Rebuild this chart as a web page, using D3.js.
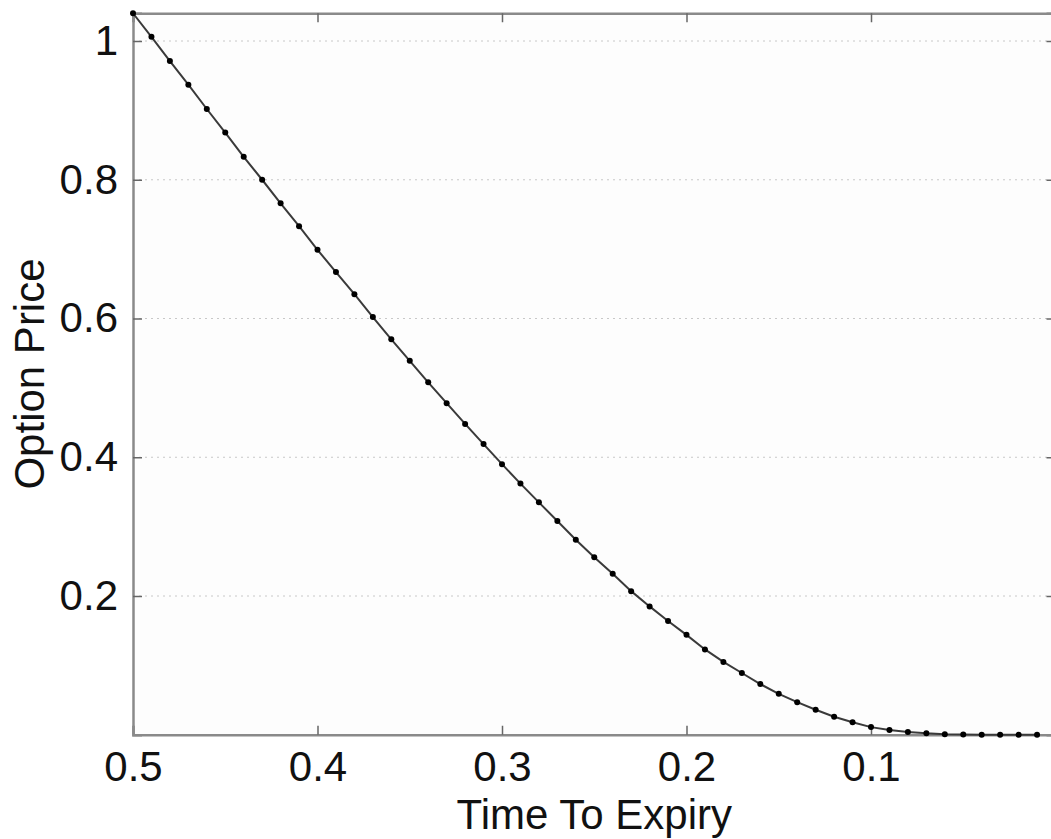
<!DOCTYPE html>
<html>
<head>
<meta charset="utf-8">
<script src="https://cdn.jsdelivr.net/npm/d3@7"></script>
<style>
  html, body { margin: 0; padding: 0; background: #fff; }
  svg { display: block; font-family: "Liberation Sans", Arial, sans-serif; }
</style>
</head>
<body>
<div id="chart"></div>
<script>
(function() {
    const width = 1051;
    const height = 839;

    // time to expiry (years), from 0.50 down to 0.01
    const expiry = [0.50, 0.49, 0.48, 0.47, 0.46, 0.45, 0.44, 0.43, 0.42, 0.41,
                    0.40, 0.39, 0.38, 0.37, 0.36, 0.35, 0.34, 0.33, 0.32, 0.31,
                    0.30, 0.29, 0.28, 0.27, 0.26, 0.25, 0.24, 0.23, 0.22, 0.21,
                    0.20, 0.19, 0.18, 0.17, 0.16, 0.15, 0.14, 0.13, 0.12, 0.11,
                    0.10, 0.09, 0.08, 0.07, 0.06, 0.05, 0.04, 0.03, 0.02, 0.01];
    const price = [1.040, 1.006, 0.971, 0.937, 0.902, 0.868, 0.833, 0.800, 0.766, 0.733,
                   0.699, 0.667, 0.635, 0.602, 0.570, 0.539, 0.508, 0.478, 0.448, 0.419,
                   0.390, 0.362, 0.335, 0.308, 0.281, 0.256, 0.232, 0.207, 0.185, 0.164,
                   0.144, 0.123, 0.105, 0.089, 0.073, 0.059, 0.047, 0.036, 0.026, 0.018,
                   0.011, 0.007, 0.004, 0.002, 0.0008, 0.0003, 0.0001, 0, 0, 0];
    const xTicks = [0.5, 0.4, 0.3, 0.2, 0.1];
    const yTicks = [0.2, 0.4, 0.6, 0.8, 1];

    const data = expiry.map((t, i) => ({ t: t, v: price[i] }));

    const plot = { left: 133, right: 1055.5, top: 13.25, bottom: 734.75 };

    const x = d3.scaleLinear().domain([0.5, 0]).range([plot.left, plot.right]);
    const y = d3.scaleLinear().domain([0, 1.04]).range([plot.bottom, plot.top]);

    const svg = d3.select("#chart").append("svg")
        .attr("width", width).attr("height", height);

    svg.append("rect")
        .attr("x", plot.left).attr("y", plot.top)
        .attr("width", plot.right - plot.left).attr("height", plot.bottom - plot.top)
        .attr("fill", "#fdfdfd");

    // horizontal dotted grid
    svg.append("g").selectAll("line")
        .data(yTicks)
        .join("line")
        .attr("x1", plot.left).attr("x2", plot.right)
        .attr("y1", d => y(d)).attr("y2", d => y(d))
        .attr("stroke", "#c8c8c8").attr("stroke-width", 1)
        .attr("stroke-dasharray", "2,4");

    const tickLen = 9;
    const axisColor = "#8a8a8a";

    // bottom & top axes (ticks inward)
    const xAxis = svg.append("g")
        .attr("transform", `translate(0,${plot.bottom})`)
        .call(d3.axisBottom(x).tickValues(xTicks).tickSize(-tickLen).tickPadding(16.5)
            .tickFormat(d3.format(".1f")));
    svg.append("g")
        .attr("transform", `translate(0,${plot.top})`)
        .call(d3.axisTop(x).tickValues(xTicks).tickSize(-tickLen).tickFormat(""));

    // left & right axes
    const yAxis = svg.append("g")
        .attr("transform", `translate(${plot.left},0)`)
        .call(d3.axisLeft(y).tickValues(yTicks).tickSize(-tickLen).tickPadding(15)
            .tickFormat(d => d === 1 ? "1" : d3.format(".1f")(d)));
    svg.append("g")
        .attr("transform", `translate(${plot.right},0)`)
        .call(d3.axisRight(y).tickValues(yTicks).tickSize(-tickLen).tickFormat(""));

    svg.selectAll(".domain").attr("stroke", axisColor).attr("stroke-width", 2.5);
    svg.selectAll(".tick line").attr("stroke", "#666").attr("stroke-width", 1.5);
    svg.selectAll(".tick text")
        .attr("fill", "#111").attr("font-size", 42)
        .attr("font-family", "'Liberation Sans', Arial, sans-serif");
    xAxis.selectAll(".tick text").attr("dy", "0.71em");

    // curve
    const line = d3.line().x(d => x(d.t)).y(d => y(d.v));
    svg.append("path")
        .datum(data)
        .attr("fill", "none")
        .attr("stroke", "#3a3a3a").attr("stroke-width", 2)
        .attr("d", line);

    svg.append("g").selectAll("circle")
        .data(data)
        .join("circle")
        .attr("cx", d => x(d.t))
        .attr("cy", d => y(d.v))
        .attr("r", 3)
        .attr("fill", "#000");

    // labels
    svg.append("text")
        .attr("x", (plot.left + plot.right) / 2)
        .attr("y", 829)
        .attr("text-anchor", "middle")
        .attr("font-size", 42).attr("fill", "#111")
        .text("Time To Expiry");

    svg.append("text")
        .attr("transform", `translate(44,${(plot.top + plot.bottom) / 2}) rotate(-90)`)
        .attr("text-anchor", "middle")
        .attr("font-size", 42).attr("fill", "#111")
        .text("Option Price");
})();
</script>
</body>
</html>
